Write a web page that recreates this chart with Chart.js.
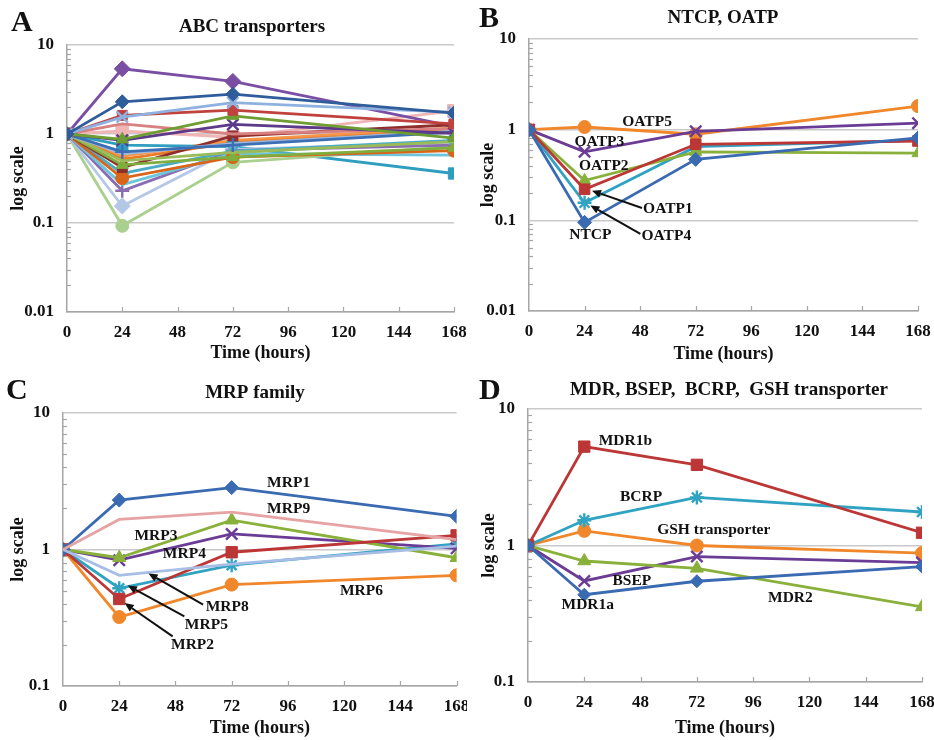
<!DOCTYPE html>
<html><head><meta charset="utf-8">
<script src="https://cdn.jsdelivr.net/npm/chart.js@4/dist/chart.umd.min.js"></script>
<style>
html,body{margin:0;padding:0;background:#fff;}
#wrap{position:relative;width:934px;height:740px;overflow:hidden;background:#fff;}
.panel{position:absolute;width:467px;height:370px;}
.panel canvas{display:block;}
.letter{position:absolute;font-family:"Liberation Serif","Times New Roman",serif;font-weight:bold;font-size:30px;line-height:1;color:#111;}
</style></head><body>
<div id="wrap">
  <div class="panel" style="left:0;top:0"><canvas id="cA" width="467" height="370"></canvas></div>
  <div class="panel" style="left:467px;top:0"><canvas id="cB" width="467" height="370"></canvas></div>
  <div class="panel" style="left:0;top:370px"><canvas id="cC" width="467" height="370"></canvas></div>
  <div class="panel" style="left:467px;top:370px"><canvas id="cD" width="467" height="370"></canvas></div>
  <div class="letter" style="left:11px;top:6px">A</div>
  <div class="letter" style="left:479px;top:2px">B</div>
  <div class="letter" style="left:6px;top:374px">C</div>
  <div class="letter" style="left:479px;top:374px">D</div>
</div>
<script>
// ---------- DATA ----------
const hours = [0, 24, 72, 168];
const xTickValues = [0, 24, 48, 72, 96, 120, 144, 168];
const yTicksWide = [0.01, 0.1, 1, 10];
const yTicksNarrow = [0.1, 1, 10];

// Panel A: ABC transporters (relative expression at 0, 24, 72, 168 h)
const abc01 = [1, 5.4, 3.9, 1.22];
const abc02 = [1, 2.3, 2.8, 1.72];
const abc03 = [1, 1.55, 2.25, 1.75];
const abc04 = [1, 1.62, 1.85, 1.30];
const abc05 = [1, 0.87, 1.60, 0.90];
const abc06 = [1, 0.85, 1.28, 1.02];
const abc07 = [1, 1.30, 1.00, 1.15];
const abc08 = [1, 0.75, 0.72, 0.36];
const abc09 = [1, 0.63, 0.75, 1.05];
const abc10 = [1, 0.56, 0.85, 1.17];
const abc11 = [1, 0.52, 0.80, 1.10];
const abc12 = [1, 0.42, 0.95, 1.27];
const abc13 = [1, 0.45, 0.55, 0.70];
const abc14 = [1, 0.32, 0.55, 0.65];
const abc15 = [1, 0.27, 0.60, 0.58];
const abc16 = [1, 0.23, 0.65, 0.75];
const abc17 = [1, 0.155, 0.67, 0.80];
const abc18 = [1, 0.093, 0.48, 0.72];
const abc19 = [1, 0.60, 0.78, 1.08];
const abc20 = [1, 0.50, 0.62, 0.82];
const abc21 = [1, 0.36, 0.64, 0.85];
const abc22 = [1, 1.08, 0.92, 1.82];

// Panel B: NTCP, OATP
const NTCP  = [1, 0.095, 0.47, 0.81];
const OATP1 = [1, 0.22, 0.69, 0.75];
const OATP2 = [1, 0.275, 0.57, 0.55];
const OATP3 = [1, 0.57, 0.96, 1.18];
const OATP4 = [1, 0.156, 0.65, 0.76];
const OATP5 = [1, 1.07, 0.89, 1.82];

// Panel C: MRP family
const MRP1 = [1, 2.30, 2.84, 1.75];
const MRP2 = [1, 0.434, 0.955, 1.27];
const MRP3 = [1, 0.87, 1.64, 0.87];
const MRP4 = [1, 0.835, 1.30, 1.02];
const MRP5 = [1, 0.52, 0.767, 1.10];
const MRP6 = [1, 0.32, 0.553, 0.647];
const MRP8 = [1, 0.647, 0.78, 1.06];
const MRP9 = [1, 1.66, 1.88, 1.18];

// Panel D: MDR, BSEP, BCRP, GSH transporter
const MDR1a = [1, 0.436, 0.547, 0.70];
const MDR1b = [1, 5.3, 3.9, 1.24];
const MDR2  = [1, 0.77, 0.68, 0.355];
const BSEP  = [1, 0.55, 0.83, 0.75];
const BCRP  = [1, 1.53, 2.25, 1.76];
const GSH   = [1, 1.28, 1.00, 0.88];

// ---------- STYLE ----------
const FONT = '"Liberation Serif","Times New Roman",serif';
const C = {blue:'#3A6AB2', red:'#BC3636', green:'#88B03A', purple:'#6B3C96', teal:'#30A3C2', orange:'#F0872A'};

const panels = {
  cA: {
    title:'ABC transporters', titleX:252, titleY:27,
    area:{left:67, top:45, right:454, bottom:312}, yMin:0.01, yTicks:yTicksWide,
    xTitlePad:5.4, yTitlePad:8,
    series:[
      {l:'ABC 2',  v:abc02, c:'#2F5C9A', m:'rectRot', r:7},
      {l:'ABC 3',  v:abc03, c:'#8EB1E0', m:'crossRot', r:8},
      {l:'ABC 4',  v:abc04, c:'#C0413E', m:'rect', r:7},
      {l:'ABC 5',  v:abc05, c:'#6E9D32', m:'triangle', r:7},
      {l:'ABC 6',  v:abc06, c:'#5B3A8A', m:'crossRot', r:8},
      {l:'ABC 7',  v:abc07, c:'#D98080', m:false},
      {l:'ABC 9',  v:abc09, c:'#3B6FB6', m:'cross', r:7},
      {l:'ABC 19', v:abc19, c:'#9DB7DE', m:false},
      {l:'ABC 20', v:abc20, c:'#9BBB59', m:false},
      {l:'ABC 13', v:abc13, c:'#7FAE3E', m:'triangle', r:7},
      {l:'ABC 12', v:abc12, c:'#8E2F2C', m:'rect', r:7},
      {l:'ABC 14', v:abc14, c:'#D8651A', m:'circle', r:6.5},
      {l:'ABC 15', v:abc15, c:'#6CC5DB', m:false},
      {l:'ABC 21', v:abc21, c:'#4BACC6', m:'star', r:7},
      {l:'ABC 16', v:abc16, c:'#8A6CB0', m:'cross', r:7},
      {l:'ABC 17', v:abc17, c:'#B4C7E7', m:'rectRot', r:8},
      {l:'ABC 18', v:abc18, c:'#A9D08E', m:'circle', r:6.5},
      {l:'ABC 8',  v:abc08, c:'#2E9EC0', m:'rect', r:8},
      {l:'ABC 11', v:abc11, c:'#E87B2A', m:false},
      {l:'ABC 10', v:abc10, c:'#F79646', m:'triangle', r:7},
      {l:'ABC 1',  v:abc01, c:'#7A4FA3', m:'rectRot', r:8},
      {l:'ABC 22', v:abc22, c:'#F0B5B5', m:'rect', r:9}
    ],
    notes:[], arrows:[]
  },
  cB: {
    title:'NTCP, OATP', titleX:256, titleY:18,
    area:{left:62, top:39, right:451, bottom:311}, yMin:0.01, yTicks:yTicksWide,
    xTitlePad:4.4, yTitlePad:11,
    series:[
      {l:'NTCP',  v:NTCP,  c:C.blue,   m:'rectRot', r:7},
      {l:'OATP1', v:OATP1, c:C.red,    m:'rect', r:7.5},
      {l:'OATP2', v:OATP2, c:C.green,  m:'triangle', r:7},
      {l:'OATP3', v:OATP3, c:C.purple, m:'crossRot', r:8},
      {l:'OATP4', v:OATP4, c:C.teal,   m:'star', r:7},
      {l:'OATP5', v:OATP5, c:C.orange, m:'circle', r:6.5}
    ],
    notes:[
      {t:'OATP5', x:51, y:1.21}, {t:'OATP3', x:30.4, y:0.73}, {t:'OATP2', x:32.3, y:0.396},
      {t:'OATP1', x:60, y:0.134}, {t:'NTCP', x:26.5, y:0.069}, {t:'OATP4', x:59.3, y:0.068}
    ],
    arrows:[
      {x1:48.8, y1:0.137, x2:27.2, y2:0.212},
      {x1:48.1, y1:0.071, x2:26.5, y2:0.146}
    ]
  },
  cC: {
    title:'MRP family', titleX:255, titleY:23,
    area:{left:63, top:43, right:459, bottom:316}, yMin:0.1, yTicks:yTicksNarrow,
    xTitlePad:0.6, yTitlePad:8,
    series:[
      {l:'MRP9', v:MRP9, c:'#E6A3A3', m:false},
      {l:'MRP8', v:MRP8, c:'#A6BDE6', m:false},
      {l:'MRP1', v:MRP1, c:C.blue,   m:'rectRot', r:7},
      {l:'MRP2', v:MRP2, c:C.red,    m:'rect', r:8},
      {l:'MRP3', v:MRP3, c:C.green,  m:'triangle', r:7.5},
      {l:'MRP4', v:MRP4, c:C.purple, m:'crossRot', r:8},
      {l:'MRP5', v:MRP5, c:C.teal,   m:'star', r:7},
      {l:'MRP6', v:MRP6, c:C.orange, m:'circle', r:6.5}
    ],
    notes:[
      {t:'MRP1', x:96.3, y:3.06}, {t:'MRP9', x:96.3, y:1.97}, {t:'MRP3', x:39.7, y:1.25},
      {t:'MRP4', x:51.8, y:0.93}, {t:'MRP6', x:127.4, y:0.50}, {t:'MRP8', x:70.1, y:0.377},
      {t:'MRP5', x:61.2, y:0.281}, {t:'MRP2', x:55.3, y:0.20}
    ],
    arrows:[
      {x1:59.8, y1:0.394, x2:36.5, y2:0.667},
      {x1:51.8, y1:0.323, x2:27.7, y2:0.544},
      {x1:46.8, y1:0.231, x2:26.3, y2:0.405}
    ]
  },
  cD: {
    title:'MDR, BSEP,  BCRP,  GSH transporter', titleX:262, titleY:20,
    area:{left:61, top:39, right:455, bottom:312}, yMin:0.1, yTicks:yTicksNarrow,
    xTitlePad:0.6, yTitlePad:12,
    series:[
      {l:'MDR1a', v:MDR1a, c:C.blue,   m:'rectRot', r:6.5},
      {l:'MDR1b', v:MDR1b, c:C.red,    m:'rect', r:8},
      {l:'MDR2',  v:MDR2,  c:C.green,  m:'triangle', r:7.5},
      {l:'BSEP',  v:BSEP,  c:C.purple, m:'crossRot', r:8},
      {l:'BCRP',  v:BCRP,  c:C.teal,   m:'star', r:7},
      {l:'GSH transporter', v:GSH, c:C.orange, m:'circle', r:6.5}
    ],
    notes:[
      {t:'MDR1b', x:41.5, y:5.85}, {t:'BCRP', x:48.2, y:2.27}, {t:'GSH transporter', x:79.2, y:1.29},
      {t:'BSEP', x:44.3, y:0.553}, {t:'MDR1a', x:25.5, y:0.368}, {t:'MDR2', x:111.9, y:0.41}
    ],
    arrows:[]
  }
};

// ---------- DECOR PLUGIN ----------
const decor = {
  id:'decor',
  beforeDatasetsDraw(chart){
    const p = panels[chart.canvas.id];
    const ctx = chart.ctx, xs = chart.scales.x, ys = chart.scales.y;
    const a = chart.chartArea;
    ctx.save();
    ctx.strokeStyle = '#A6A6A6'; ctx.lineWidth = 1.2;
    for (let d = p.yMin; d < 10 * 0.999; d *= 10) {
      for (let k = 2; k <= 9; k++) {
        const y = Math.round(ys.getPixelForValue(d * k)) + 0.5;
        ctx.beginPath(); ctx.moveTo(a.left, y); ctx.lineTo(a.left + 4, y); ctx.stroke();
      }
    }
    xTickValues.forEach(v => {
      if (v === 0) return;
      const x = Math.round(xs.getPixelForValue(v)) + 0.5;
      ctx.beginPath(); ctx.moveTo(x, a.bottom); ctx.lineTo(x, a.bottom - 5); ctx.stroke();
    });
    ctx.restore();
  },
  afterDatasetsDraw(chart){
    const p = panels[chart.canvas.id];
    const ctx = chart.ctx, xs = chart.scales.x, ys = chart.scales.y;
    ctx.save();
    ctx.fillStyle = '#111';
    ctx.font = 'bold 19px ' + FONT;
    ctx.textAlign = 'center'; ctx.textBaseline = 'middle';
    ctx.fillText(p.title, p.titleX, p.titleY);
    ctx.font = 'bold 15.5px ' + FONT;
    p.notes.forEach(n => ctx.fillText(n.t, xs.getPixelForValue(n.x), ys.getPixelForValue(n.y)));
    ctx.strokeStyle = '#111'; ctx.lineWidth = 2;
    p.arrows.forEach(ar => {
      const x1 = xs.getPixelForValue(ar.x1), y1 = ys.getPixelForValue(ar.y1);
      const x2 = xs.getPixelForValue(ar.x2), y2 = ys.getPixelForValue(ar.y2);
      const ang = Math.atan2(y2 - y1, x2 - x1);
      const hl = 9, hw = 4;
      const bx = x2 - Math.cos(ang) * hl, by = y2 - Math.sin(ang) * hl;
      ctx.beginPath(); ctx.moveTo(x1, y1); ctx.lineTo(bx, by); ctx.stroke();
      ctx.beginPath();
      ctx.moveTo(x2, y2);
      ctx.lineTo(bx + Math.sin(ang) * hw, by - Math.cos(ang) * hw);
      ctx.lineTo(bx - Math.sin(ang) * hw, by + Math.cos(ang) * hw);
      ctx.closePath(); ctx.fill();
    });
    ctx.restore();
  }
};

// ---------- BUILD ----------
function makeChart(id){
  const p = panels[id];
  const W = 467, H = 370;
  const tickFont = {family:FONT, weight:'bold', size:17};
  const titleFont = {family:FONT, weight:'bold', size:18};
  return new Chart(document.getElementById(id), {
    type:'line',
    data:{
      datasets: p.series.map(s => ({
        label:s.l,
        data: hours.map((h, i) => ({x:h, y:s.v[i]})),
        borderColor:s.c, backgroundColor:s.c,
        pointStyle: s.m || 'circle',
        pointRadius: s.m ? s.r : 0,
        pointBorderColor:s.c, pointBackgroundColor:s.c,
        pointBorderWidth: (s.m === 'crossRot' || s.m === 'star' || s.m === 'cross') ? 2.4 : 1,
        borderWidth: 2.8, tension:0, fill:false
      }))
    },
    options:{
      responsive:false, animation:false, events:[],
      layout:{padding:{left:0, top:p.area.top, right:W - p.area.right, bottom:0}},
      plugins:{legend:{display:false}, tooltip:{enabled:false}, title:{display:false}},
      scales:{
        x:{
          type:'linear', min:0, max:168,
          afterBuildTicks: s => { s.ticks = xTickValues.map(v => ({value:v})); },
          afterFit: s => { s.height = H - p.area.bottom; s.paddingLeft = 0; s.paddingRight = 0; },
          grid:{display:true, color:'rgba(0,0,0,0)', drawTicks:false},
          border:{display:true, color:'#A6A6A6', width:1.5},
          ticks:{font:tickFont, color:'#111', padding:10, maxRotation:0, autoSkip:false},
          title:{display:true, text:'Time (hours)', font:titleFont, color:'#111', padding:{top:0, bottom:p.xTitlePad}}
        },
        y:{
          type:'logarithmic', min:p.yMin, max:10,
          afterBuildTicks: s => { s.ticks = p.yTicks.map(v => ({value:v})); },
          afterFit: s => { s.width = p.area.left; s.paddingTop = 0; s.paddingBottom = 0; },
          grid:{color:'#C9C9C9', lineWidth:1.5, drawTicks:false},
          border:{display:true, color:'#A6A6A6', width:1.5},
          ticks:{font:tickFont, color:'#111', padding:13, callback: v => String(v)},
          title:{display:true, text:'log scale', font:titleFont, color:'#111', padding:{top:p.yTitlePad, bottom:0}}
        }
      }
    },
    plugins:[decor]
  });
}
['cA','cB','cC','cD'].forEach(makeChart);
</script>
</body></html>
